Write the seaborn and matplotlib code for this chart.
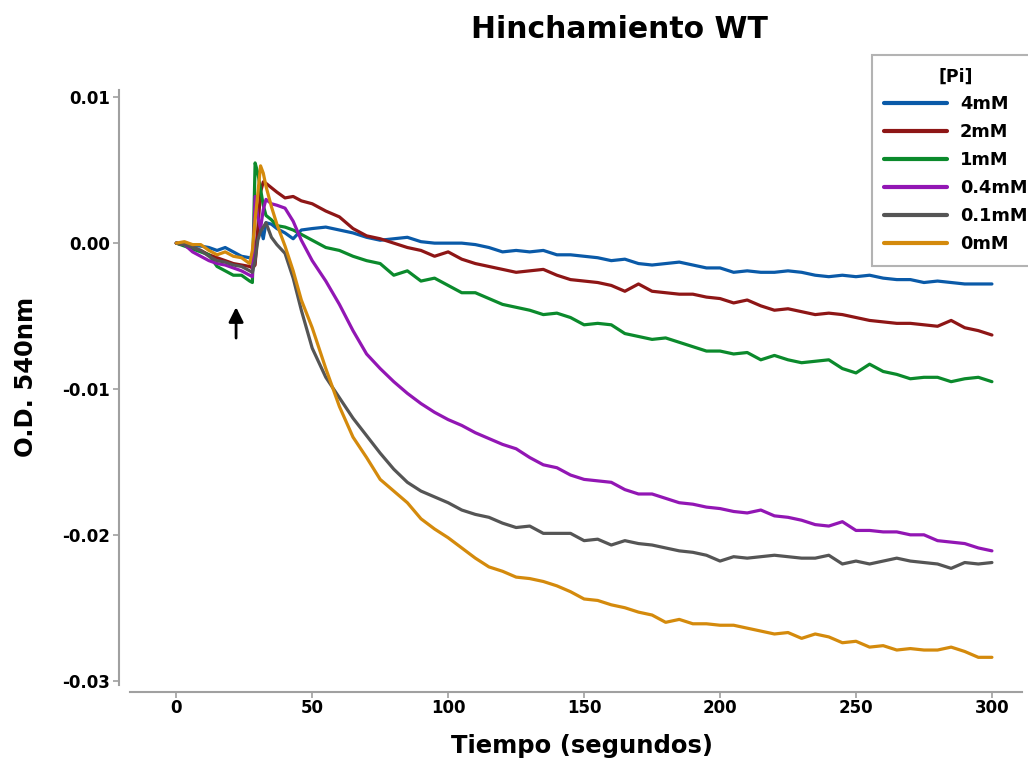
import numpy as np
import pandas as pd
import seaborn as sns
import matplotlib.pyplot as plt
from matplotlib.lines import Line2D
from matplotlib.ticker import FuncFormatter

# time (s)
tiempo = [0, 3, 6, 9, 12, 15, 18, 21, 24, 27, 28, 29, 30, 31, 32, 33, 35, 37, 40, 43, 46,
          50, 55, 60, 65, 70, 75, 80, 85, 90, 95, 100, 105, 110, 115, 120, 125, 130, 135,
          140, 145, 150, 155, 160, 165, 170, 175, 180, 185, 190, 195, 200, 205, 210, 215,
          220, 225, 230, 235, 240, 245, 250, 255, 260, 265, 270, 275, 280, 285, 290, 295, 300]

# O.D. 540nm readings, in units of 1e-3
od_4mM = [0, -0.1, -0.2, -0.2, -0.3, -0.5, -0.3, -0.6, -0.9, -1.0, -1.1, -0.5, 0.6, 1.1, 0.3, 1.4, 1.3, 1.0, 0.7, 0.3, 0.9,
          1.0, 1.1, 0.9, 0.7, 0.4, 0.2, 0.3, 0.4, 0.1, 0.0, 0.0, 0.0, -0.1, -0.3, -0.6, -0.5, -0.6, -0.5,
          -0.8, -0.8, -0.9, -1.0, -1.2, -1.1, -1.4, -1.5, -1.4, -1.3, -1.5, -1.7, -1.7, -2.0, -1.9, -2.0,
          -2.0, -1.9, -2.0, -2.2, -2.3, -2.2, -2.3, -2.2, -2.4, -2.5, -2.5, -2.7, -2.6, -2.7, -2.8, -2.8, -2.8]
od_2mM = [0, -0.1, -0.3, -0.5, -0.8, -1.0, -1.2, -1.4, -1.5, -1.6, -1.7, -1.5, 1.0, 3.5, 4.2, 4.1, 3.8, 3.5, 3.1, 3.2, 2.9,
          2.7, 2.2, 1.8, 1.0, 0.5, 0.3, 0.0, -0.3, -0.5, -0.9, -0.6, -1.1, -1.4, -1.6, -1.8, -2.0, -1.9, -1.8,
          -2.2, -2.5, -2.6, -2.7, -2.9, -3.3, -2.8, -3.3, -3.4, -3.5, -3.5, -3.7, -3.8, -4.1, -3.9, -4.3,
          -4.6, -4.5, -4.7, -4.9, -4.8, -4.9, -5.1, -5.3, -5.4, -5.5, -5.5, -5.6, -5.7, -5.3, -5.8, -6.0, -6.3]
od_1mM = [0, -0.2, -0.4, -0.6, -0.8, -1.6, -1.9, -2.2, -2.2, -2.6, -2.7, 5.5, 4.8, 3.7, 2.6, 1.9, 1.6, 1.2, 1.1, 0.9, 0.6,
          0.2, -0.3, -0.5, -0.9, -1.2, -1.4, -2.2, -1.9, -2.6, -2.4, -2.9, -3.4, -3.4, -3.8, -4.2, -4.4, -4.6, -4.9,
          -4.8, -5.1, -5.6, -5.5, -5.6, -6.2, -6.4, -6.6, -6.5, -6.8, -7.1, -7.4, -7.4, -7.6, -7.5, -8.0,
          -7.7, -8.0, -8.2, -8.1, -8.0, -8.6, -8.9, -8.3, -8.8, -9.0, -9.3, -9.2, -9.2, -9.5, -9.3, -9.2, -9.5]
od_04mM = [0, -0.1, -0.6, -0.9, -1.2, -1.4, -1.5, -1.7, -1.9, -2.2, -2.3, 3.2, 1.8, 1.0, 2.3, 3.0, 2.7, 2.6, 2.4, 1.5, 0.2,
           -1.2, -2.6, -4.2, -6.0, -7.6, -8.6, -9.5, -10.3, -11.0, -11.6, -12.1, -12.5, -13.0, -13.4, -13.8, -14.1, -14.7, -15.2,
           -15.4, -15.9, -16.2, -16.3, -16.4, -16.9, -17.2, -17.2, -17.5, -17.8, -17.9, -18.1, -18.2, -18.4, -18.5, -18.3,
           -18.7, -18.8, -19.0, -19.3, -19.4, -19.1, -19.7, -19.7, -19.8, -19.8, -20.0, -20.0, -20.4, -20.5, -20.6, -20.9, -21.1]
od_01mM = [0, -0.1, -0.3, -0.5, -0.9, -1.2, -1.3, -1.5, -1.6, -1.9, -2.0, -1.2, 0.2, 0.8, 1.1, 1.4, 0.4, -0.1, -0.7, -2.4, -4.6,
           -7.2, -9.2, -10.6, -12.0, -13.2, -14.4, -15.5, -16.4, -17.0, -17.4, -17.8, -18.3, -18.6, -18.8, -19.2, -19.5, -19.4, -19.9,
           -19.9, -19.9, -20.4, -20.3, -20.7, -20.4, -20.6, -20.7, -20.9, -21.1, -21.2, -21.4, -21.8, -21.5, -21.6, -21.5,
           -21.4, -21.5, -21.6, -21.6, -21.4, -22.0, -21.8, -22.0, -21.8, -21.6, -21.8, -21.9, -22.0, -22.3, -21.9, -22.0, -21.9]
od_0mM = [0, 0.1, -0.1, -0.1, -0.5, -0.8, -0.6, -0.9, -1.0, -1.4, -0.5, 1.6, 3.4, 5.3, 4.8, 3.9, 2.5, 1.3, -0.2, -1.9, -3.9,
          -5.8, -8.6, -11.2, -13.3, -14.7, -16.2, -17.0, -17.8, -18.9, -19.6, -20.2, -20.9, -21.6, -22.2, -22.5, -22.9, -23.0, -23.2,
          -23.5, -23.9, -24.4, -24.5, -24.8, -25.0, -25.3, -25.5, -26.0, -25.8, -26.1, -26.1, -26.2, -26.2, -26.4, -26.6,
          -26.8, -26.7, -27.1, -26.8, -27.0, -27.4, -27.3, -27.7, -27.6, -27.9, -27.8, -27.9, -27.9, -27.7, -28.0, -28.4, -28.4]

labels = ["4mM", "2mM", "1mM", "0.4mM", "0.1mM", "0mM"]
colores = ["#0a5aa8", "#8e1616", "#0b8a2c", "#9216b4", "#555555", "#d48a0c"]

series = [od_4mM, od_2mM, od_1mM, od_04mM, od_01mM, od_0mM]
df = pd.concat(
    [pd.DataFrame({"t": tiempo, "od": np.array(v) * 1e-3, "Pi": lab}) for v, lab in zip(series, labels)],
    ignore_index=True,
)

sns.set_style("ticks")
plt.rcParams["font.family"] = ["DejaVu Sans"]
plt.rcParams["font.weight"] = "bold"
plt.rcParams["text.color"] = "black"
plt.rcParams["axes.labelcolor"] = "black"

fig = plt.figure(figsize=(10.28, 7.66), dpi=100)
ax = fig.add_axes([0.1265, 0.1057, 0.8675, 0.7768])

sns.lineplot(data=df, x="t", y="od", hue="Pi", hue_order=labels,
             palette=dict(zip(labels, colores)), linewidth=2.3, ax=ax,
             errorbar=None, legend=False)

# arrow marking the addition
ax.annotate("", xy=(22, -0.0042), xytext=(22, -0.0067),
            arrowprops=dict(arrowstyle="-|>", color="black", lw=2, mutation_scale=22))

ax.set_xlim(-17, 311)
ax.set_ylim(-0.0303, 0.0105)
ax.set_xticks([0, 50, 100, 150, 200, 250, 300])
ax.set_yticks([0.01, 0.0, -0.01, -0.02, -0.03])
ax.yaxis.set_major_formatter(FuncFormatter(lambda v, p: f"{v:.2f}".replace("\u2212", "-")))

sns.despine(ax=ax)
ax.spines["left"].set_position(("outward", 8))
ax.spines["bottom"].set_position(("outward", 5))
for s in ["left", "bottom"]:
    ax.spines[s].set_color("#a0a0a0")
    ax.spines[s].set_linewidth(1.5)
ax.tick_params(colors="#a0a0a0", labelcolor="black", length=4, width=1.2, labelsize=12)
ax.tick_params(axis="x", pad=1)
ax.tick_params(axis="y", pad=2.5)
for lab in ax.get_xticklabels() + ax.get_yticklabels():
    lab.set_fontweight("bold")

ax.set_xlabel("Tiempo (segundos)", fontsize=17.5, fontweight="bold")
ax.set_ylabel("O.D. 540nm", fontsize=17.5, fontweight="bold")
ax.xaxis.set_label_coords((582 - 130) / 892, -0.082)
ax.yaxis.set_label_coords(-0.103, (685 - 377) / 595)
fig.text(0.603, 0.962, "Hinchamiento WT", ha="center", va="center", fontsize=21.5, fontweight="bold")

handles = [Line2D([], [], color=c, lw=3) for c in colores]
leg = ax.legend(handles, labels, title="[Pi]", loc="upper left",
                bbox_to_anchor=(872 / 1028, 1 - 55 / 766),
                bbox_transform=fig.transFigure, frameon=True, fancybox=False,
                fontsize=12.8, title_fontsize=12.5, handlelength=3.5, handletextpad=0.75,
                labelspacing=0.56, borderpad=0.7, borderaxespad=0)
leg.get_frame().set_edgecolor("#a0a0a0")
leg.get_frame().set_linewidth(1.5)
leg.get_title().set_fontweight("bold")
for txt in leg.get_texts():
    txt.set_fontweight("bold")

fig.savefig("out.png", dpi=100)
